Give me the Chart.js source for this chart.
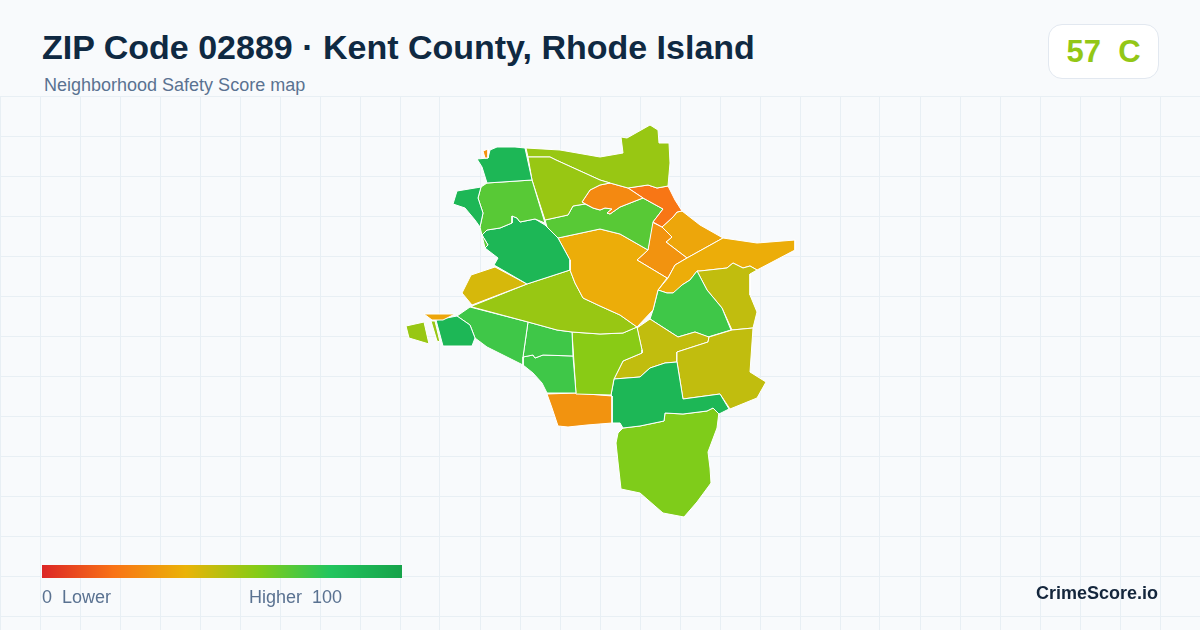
<!DOCTYPE html>
<html>
<head>
<meta charset="utf-8">
<title>ZIP Code 02889</title>
<script src="https://cdn.jsdelivr.net/npm/chart.js@4"></script>
<style>
    html, body { margin: 0; padding: 0; }
    body { width: 1200px; height: 630px; background: #f8fafc; position: relative; overflow: hidden;
           font-family: "Liberation Sans", Arial, sans-serif; }
    #mapWrap { position: absolute; left: 0; top: 96px; width: 1200px; height: 534px; }
    .title { position: absolute; left: 42px; top: 27px; font-size: 34px; line-height: 40px; font-weight: 700; color: #0f2942; white-space: nowrap; }
    .subtitle { position: absolute; left: 44px; top: 75px; font-size: 18px; line-height: 20px; color: #5a7291; white-space: nowrap; }
    .badge { position: absolute; left: 1048px; top: 24px; width: 109px; height: 53px; background: #fff; border: 1px solid #e2e8f0;
             border-radius: 14px; text-align: center; font-size: 31px; line-height: 53px; font-weight: 700; color: #93c716; white-space: pre; }
    .ramp { position: absolute; left: 42px; top: 565px; width: 360px; height: 13px;
            background: linear-gradient(90deg, #dc2626 0%, #f97316 20%, #eab308 40%, #84cc16 60%, #22c55e 80%, #16a34a 100%); }
    .rampLabel { position: absolute; top: 587px; font-size: 18px; line-height: 20px; color: #5a7291; white-space: pre; }
    .brand { position: absolute; right: 42px; top: 583px; font-size: 18px; line-height: 20px; font-weight: 700; color: #14263c; white-space: nowrap; }
</style>
</head>
<body>
<div id="mapWrap"><canvas id="mapChart"></canvas></div>
<div class="title">ZIP Code 02889 · Kent County, Rhode Island</div>
<div class="subtitle">Neighborhood Safety Score map</div>
<div class="badge">57  C</div>
<div class="ramp"></div>
<div class="rampLabel" style="left:42px">0  Lower</div>
<div class="rampLabel" style="left:249px">Higher  100</div>
<div class="brand">CrimeScore.io</div>

<script>
// Graticule positions
const gridX = [0, 40, 80, 120, 160, 200, 240, 280, 320, 360, 400, 440, 480, 520, 560, 600, 640, 680, 720, 760, 800, 840, 880, 920, 960, 1000, 1040, 1080, 1120, 1160, 1200];
const gridY = [96, 136, 176, 216, 256, 296, 336, 376, 416, 456, 496, 536, 576, 616];

// Score legend stops
const rampStops = [0, 20, 40, 60, 80, 100];
const rampColors = [[220, 38, 38], [249, 115, 22], [234, 179, 8], [132, 204, 22], [34, 197, 94], [22, 163, 74]];

// Neighborhood outlines
const tractSpeck = [[483,151],[488,149],[488,158],[485,158]];
const tractNorthWest = [[477,159],[488,158],[490,150],[497,147],[515,147],[525,148],[532,180],[487,183],[482,167]];
const tractWestTip = [[457,191],[481,187],[478,198],[483,213],[480,227],[475,220],[465,208],[453,204]];
const tractWestLime = [[481,187],[487,183],[532,180],[545,223],[535,219],[520,222],[517,218],[512,216],[512,223],[500,228],[487,230],[482,235],[488,245],[485,248],[480,227],[483,213],[478,198]];
const tractWestMid = [[482,235],[487,230],[500,228],[512,223],[512,216],[517,218],[520,222],[535,219],[545,225],[558,238],[570,260],[570,270],[527,284],[494,265],[498,258],[485,248],[488,245]];
const tractNorthMid = [[528,157],[550,157],[556,160],[600,180],[610,183],[600,185],[590,190],[582,202],[585,204],[573,206],[568,215],[545,220],[532,180]];
const tractNorthEdge = [[526,148],[560,150],[600,157],[623,153],[621,137],[627,138],[650,125],[658,130],[659,143],[669,143],[670,163],[668,186],[657,188],[648,185],[628,188],[610,183],[600,180],[556,160],[550,157],[528,157]];
const tractNorthOrange = [[610,183],[628,188],[643,198],[620,207],[610,214],[607,213],[612,209],[605,208],[600,210],[593,208],[582,202],[590,190],[600,185]];
const tractLowest = [[628,188],[648,185],[657,188],[668,186],[675,200],[682,211],[677,212],[673,217],[662,227],[653,222],[663,209],[643,198]];
const tractCentreLime = [[545,220],[568,215],[573,206],[585,204],[593,208],[600,210],[605,208],[612,209],[607,213],[610,214],[620,207],[643,198],[663,209],[653,222],[648,250],[620,234],[600,229],[558,238],[547,227]];
const tractCentre = [[558,238],[600,229],[620,234],[648,250],[637,260],[667,278],[658,290],[653,310],[637,327],[620,315],[600,306],[583,298],[575,283],[570,270],[570,260]];
const tractWestOlive = [[471,275],[495,267],[527,284],[472,305],[462,293]];
const tractWedge = [[472,306],[527,284],[570,270],[575,283],[583,298],[600,306],[620,315],[637,327],[623,333],[600,334],[572,332],[557,330],[528,322],[472,307]];
const tractSliverTop = [[424,314],[455,314],[443,320],[432,320]];
const tractIsleWest = [[406,326],[424,322],[429,344],[409,338]];
const tractSliverLow = [[431,321],[435,321],[440,342],[437,341]];
const tractIsleGreen = [[436,320],[457,316],[470,325],[475,338],[472,346],[443,346]];
const tractShore = [[457,316],[470,307],[528,322],[523,357],[523,365],[503,355],[487,347],[475,338],[470,325]];
const tractMidSmall = [[528,322],[557,330],[572,332],[573,356],[543,355],[535,358],[533,355],[523,357]];
const tractMidLower = [[523,357],[533,355],[535,358],[543,355],[573,356],[576,393],[547,393],[542,383],[533,373],[523,365]];
const tractMidLime = [[572,332],[600,334],[623,333],[637,327],[642,350],[642,353],[623,361],[614,379],[611,395],[576,394]];
const tractSouthOrange = [[547,394],[575,393],[612,396],[612,423],[587,425],[568,427],[558,426],[552,408]];
const tractSouthGreen = [[614,379],[640,377],[650,368],[665,363],[677,362],[683,399],[720,394],[729,409],[719,414],[713,408],[707,411],[683,414],[665,413],[664,421],[640,426],[623,428],[620,423],[612,423],[612,396],[611,395]];
const tractSouthLime = [[623,428],[640,426],[664,421],[665,413],[683,414],[707,411],[713,408],[719,412],[717,428],[708,452],[710,468],[711,483],[697,502],[684,517],[663,513],[640,493],[621,489],[618,462],[616,443],[618,433]];
const tractEastLower = [[677,352],[708,342],[709,337],[732,330],[753,328],[750,372],[766,382],[757,398],[730,409],[720,394],[683,399],[677,362]];
const tractMidOlive = [[637,328],[650,319],[678,337],[695,332],[709,337],[708,342],[677,352],[677,362],[665,363],[650,368],[640,377],[614,379],[623,361],[642,353],[642,350]];
const tractEastGreen = [[658,290],[667,293],[673,293],[682,285],[690,280],[697,271],[707,290],[722,308],[731,330],[708,337],[695,332],[678,337],[650,319],[653,310]];
const tractEastUpper = [[697,271],[700,271],[727,268],[733,263],[743,268],[750,266],[757,270],[750,274],[750,295],[757,312],[753,328],[732,330],[722,308],[707,290]];
const tractEastBand = [[658,290],[668,278],[675,265],[687,258],[696,253],[723,238],[757,243],[795,240],[795,250],[757,270],[750,266],[743,268],[733,263],[727,268],[700,271],[697,271],[690,280],[682,285],[679,290],[673,293],[667,293]];
const tractInnerOrange = [[652,222],[662,227],[672,237],[666,242],[687,258],[675,265],[668,278],[667,278],[637,260],[648,250]];
const tractNorthEast = [[662,227],[673,217],[677,212],[682,211],[700,225],[723,238],[696,253],[687,258],[666,242],[672,237]];

const tracts = [
    tractSpeck, tractNorthWest, tractWestTip, tractWestLime, tractWestMid, tractNorthMid, tractNorthEdge,
    tractNorthOrange, tractLowest, tractCentreLime, tractCentre, tractWestOlive, tractWedge, tractSliverTop,
    tractIsleWest, tractSliverLow, tractIsleGreen, tractShore, tractMidSmall, tractMidLower, tractMidLime,
    tractSouthOrange, tractSouthGreen, tractSouthLime, tractEastLower, tractMidOlive, tractEastGreen,
    tractEastUpper, tractEastBand, tractInnerOrange, tractNorthEast
];
// Safety score of each tract, same order as above
const tractScores = [
    30, 88, 88, 69, 88, 56, 56,
    27, 21, 69, 38, 44, 56, 36,
    56, 56, 88, 74, 74, 74, 59,
    30, 88, 61, 48, 48, 74,
    48, 38, 30, 36
];

function scoreColor(score) {
    let i = 0;
    while (i < rampStops.length - 2 && score > rampStops[i + 1]) i++;
    const t = (score - rampStops[i]) / (rampStops[i + 1] - rampStops[i]);
    const c = rampColors[i].map((v, k) => Math.round(v + (rampColors[i + 1][k] - v) * t));
    return `rgb(${c[0]}, ${c[1]}, ${c[2]})`;
}

function closedPoints(points) {
    return points.concat([points[0]]).map(p => ({ x: p[0], y: p[1] }));
}

const fills = tracts.map((points, i) => ({
    data: closedPoints(points),
    showLine: true,
    fill: 'shape',
    backgroundColor: scoreColor(tractScores[i]),
    pointRadius: 0,
    borderColor: '#ffffff',
    borderWidth: 1,
    borderJoinStyle: 'round'
}));

const gridOptions = { color: '#e8eff4', lineWidth: 1, drawTicks: false };

new Chart(document.getElementById('mapChart'), {
    type: 'scatter',
    data: { datasets: fills },
    options: {
        responsive: true,
        maintainAspectRatio: false,
        animation: false,
        events: [],
        layout: { padding: 0 },
        plugins: { legend: { display: false }, tooltip: { enabled: false } },
        scales: {
            x: {
                type: 'linear', min: 0, max: 1200,
                grid: gridOptions, border: { display: false },
                ticks: { display: false },
                afterBuildTicks: scale => { scale.ticks = gridX.map(value => ({ value })); }
            },
            y: {
                type: 'linear', min: 96, max: 630, reverse: true,
                grid: gridOptions, border: { display: false },
                ticks: { display: false },
                afterBuildTicks: scale => { scale.ticks = gridY.map(value => ({ value })); }
            }
        }
    }
});
</script>
</body>
</html>
